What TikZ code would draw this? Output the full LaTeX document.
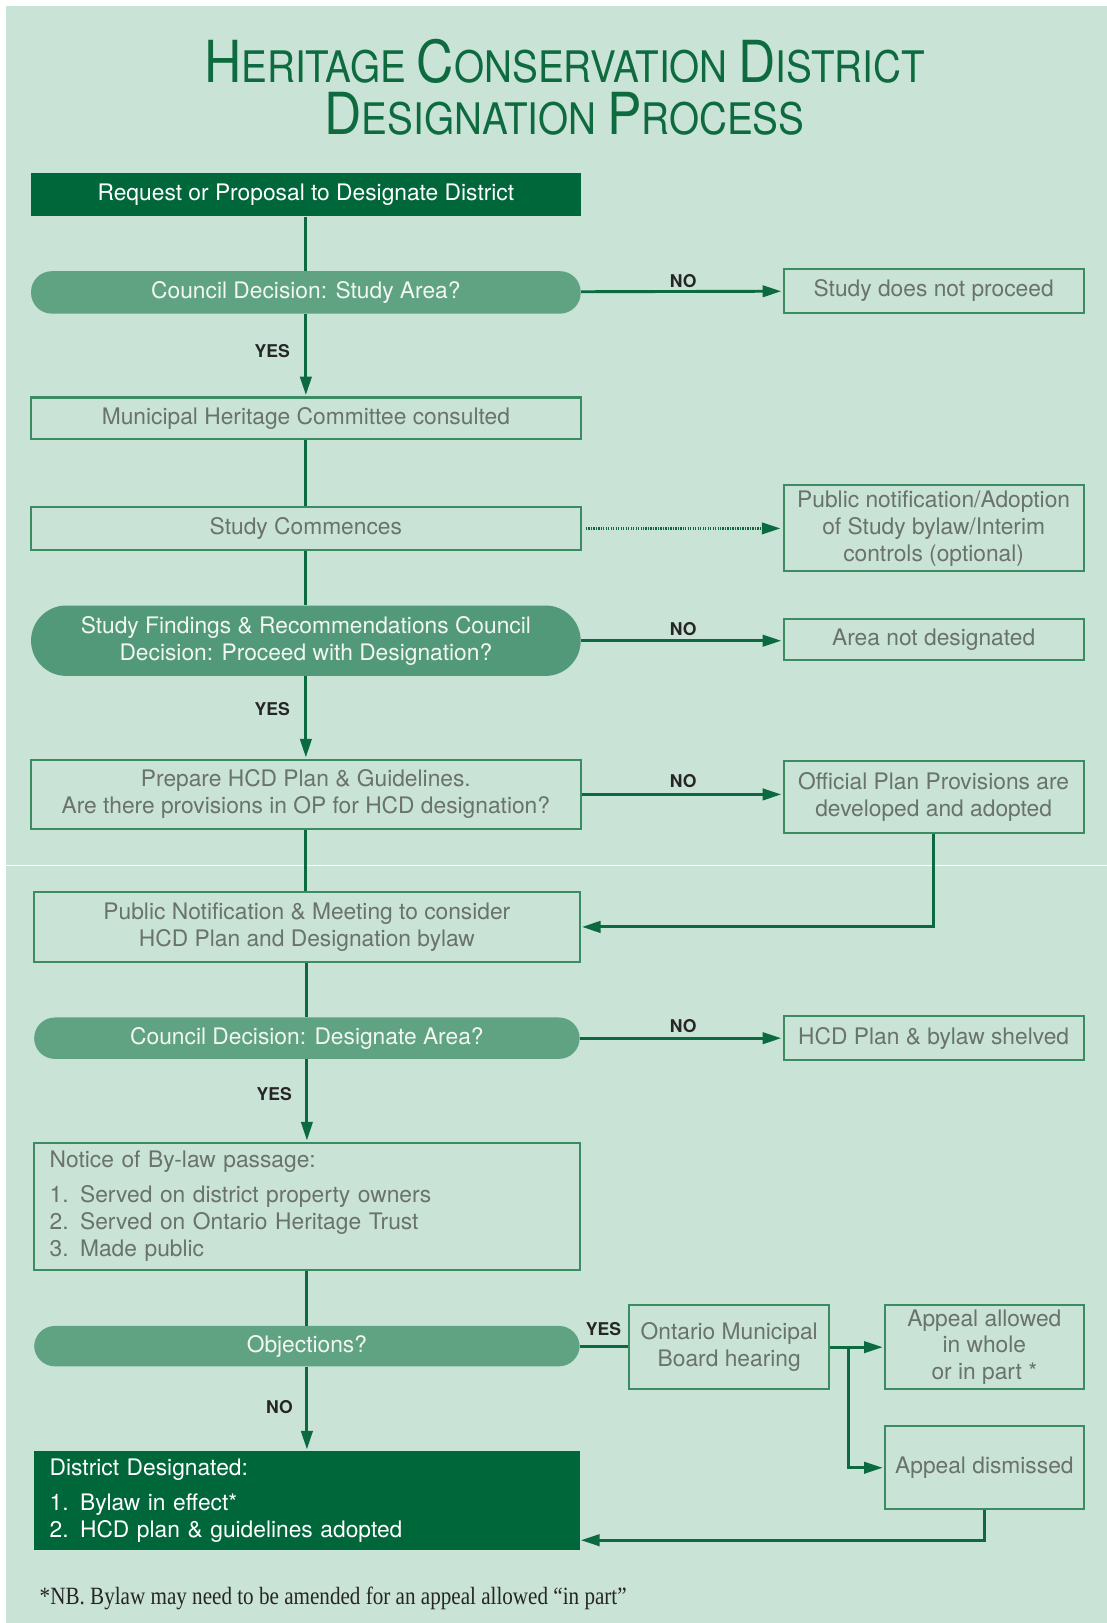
\documentclass[tikz,border=0pt]{standalone}
\usepackage{fontspec}
\setmainfont{TeX Gyre Heros}
\newfontfamily\titlefont{TeX Gyre Heros}[FakeStretch=0.89]
\newfontfamily\notefont{Liberation Serif}[FakeStretch=0.85]
\usetikzlibrary{arrows.meta}
\definecolor{bg}{HTML}{C9E3D6}
\definecolor{dkgreen}{HTML}{00673A}
\definecolor{titlegreen}{HTML}{0E6B3F}
\definecolor{pillA}{HTML}{5FA383}
\definecolor{pillB}{HTML}{52997A}
\definecolor{outl}{HTML}{3B8C62}
\definecolor{lc}{HTML}{0B6A40}
\definecolor{gtext}{HTML}{6A726D}
\definecolor{pilltext}{HTML}{F2F7F2}
\newcommand\HcdBig[1]{{\fontsize{28}{30}\selectfont #1}}
\newcommand\HcdSmall[1]{{\fontsize{21}{23}\selectfont #1}}
\tikzset{
  basefont/.style={font=\fontsize{11}{13}\selectfont},
  box/.style={basefont, draw=outl, line width=1pt, text=gtext, align=center, inner sep=2pt},
  darkbox/.style={basefont, fill=dkgreen, text=white, align=center, inner sep=2pt},
  pill/.style={basefont, fill=pillA, text=pilltext, align=center, rounded corners=10pt, inner sep=2pt},
  arr/.style={draw=lc, line width=1.4pt, -{Triangle[length=9pt,width=5.5pt]}, shorten >=0.6pt},
  dotarr/.style={draw=lc, line width=1.3pt, dash pattern=on 0.6pt off 0.6pt, -{Triangle[length=9pt,width=5.5pt]}, shorten >=1pt, shorten <=2pt},
  lnk/.style={draw=lc, line width=1.4pt},
  lbl/.style={font=\bfseries\fontsize{8.5}{10}\selectfont, text=black!85, inner sep=0pt},
  titlestyle/.style={font=\titlefont\fontsize{21}{23}\selectfont, text=titlegreen, inner sep=0pt, anchor=base}
}
\begin{document}
\begin{tikzpicture}[x=0.5pt,y=-0.5pt]
\useasboundingbox (0,0) rectangle (1069,1568);
\fill[white] (0,0) rectangle (1069,1568);
\fill[bg] (6,6) rectangle (1069,1568);
\fill[white] (0,835.5) rectangle (1069,837);

% title
\node[titlestyle] (t1) at (545.5,80) {\HcdBig{H}\HcdSmall{ERITAGE} \HcdBig{C}\HcdSmall{ONSERVATION} \HcdBig{D}\HcdSmall{ISTRICT}};
\node[titlestyle] (t2) at (545.5,130) {\HcdBig{D}\HcdSmall{ESIGNATION} \HcdBig{P}\HcdSmall{ROCESS}};

% main column
\node[darkbox, minimum width=265.5pt, minimum height=21pt] (req) at (295.5,188) {Request or Proposal to Designate District};
\node[pill, minimum width=265.5pt, minimum height=20.5pt] (cd1) at (295.5,282.5) {Council Decision: Study Area?};
\node[box, minimum width=145pt, minimum height=21pt] (sdnp) at (902,281) {Study does not proceed};
\node[box, minimum width=265.5pt, minimum height=20pt] (mhc) at (295.5,404) {Municipal Heritage Committee consulted};
\node[box, minimum width=265.5pt, minimum height=20.5pt] (sc) at (295.5,510.5) {Study Commences};
\node[box, minimum width=145pt, minimum height=41.5pt] (pub) at (902,510.5) {Public notification/Adoption\\of Study bylaw/Interim\\controls (optional)};
\node[pill, fill=pillB, rounded corners=17pt, minimum width=265.5pt, minimum height=34pt] (sf) at (295.5,619) {Study Findings \& Recommendations Council\\Decision: Proceed with Designation?};
\node[box, minimum width=145pt, minimum height=20pt] (notdes) at (902,618) {Area not designated};
\node[box, minimum width=265.5pt, minimum height=33.5pt] (prep) at (295.5,767.5) {Prepare HCD Plan \& Guidelines.\\Are there provisions in OP for HCD designation?};
\node[box, minimum width=145pt, minimum height=35pt] (opp) at (902,770) {Official Plan Provisions are\\developed and adopted};
\node[box, minimum width=263.5pt, minimum height=33.5pt] (pn) at (296.5,895.5) {Public Notification \& Meeting to consider\\HCD Plan and Designation bylaw};
\node[pill, minimum width=263.5pt, minimum height=20pt] (cd2) at (296.5,1003) {Council Decision: Designate Area?};
\node[box, minimum width=145pt, minimum height=21pt] (shelved) at (902,1003) {HCD Plan \& bylaw shelved};
\node[box, align=left, text width=248.5pt, inner xsep=7.5pt, minimum height=61.5pt] (notice) at (296.5,1165.5) {Notice of By-law passage:\\[4pt]1. Served on district property owners\\2. Served on Ontario Heritage Trust\\3. Made public};
\node[pill, minimum width=263.5pt, minimum height=19.5pt] (obj) at (296.5,1300.5) {Objections?};
\node[box, minimum width=96.5pt, minimum height=40.5pt] (omb) at (704.5,1301.5) {Ontario Municipal\\Board hearing};
\node[box, minimum width=96pt, minimum height=40.5pt] (allowed) at (951,1301.5) {Appeal allowed\\in whole\\or in part *};
\node[box, minimum width=96pt, minimum height=40pt] (dismissed) at (951,1418) {Appeal dismissed};
\node[darkbox, align=left, text width=248.5pt, inner xsep=7.5pt, minimum height=47.5pt] (dd) at (296.5,1449.5) {District Designated:\\[4pt]1. Bylaw in effect*\\2. HCD plan \& guidelines adopted};

\node[anchor=base west, inner sep=0pt, text=black!85, font=\notefont\fontsize{12}{14}\selectfont] (fn) at (38,1550) {*NB. Bylaw may need to be amended for an appeal allowed “in part”};

% connectors
\draw[lnk] (req) -- (cd1);
\draw[arr] (cd1) -- (sdnp);
\draw[arr] (cd1) -- (mhc);
\draw[lnk] (mhc) -- (sc);
\draw[dotarr] (sc) -- (pub);
\draw[lnk] (sc) -- (sf);
\draw[arr] (sf.east) -- (sf.east -| notdes.west);
\draw[arr] (sf) -- (prep);
\draw[arr] (prep.east) -- (prep.east -| opp.west);
\draw[lnk] (prep.south) -- (prep.south |- pn.north);
\draw[arr] (opp.south) |- (pn.east);
\draw[lnk] (pn) -- (cd2);
\draw[arr] (cd2) -- (shelved);
\draw[arr] (cd2) -- (notice);
\draw[lnk] (notice) -- (obj);
\draw[lnk] (obj.east) -- (obj.east -| omb.west);
\coordinate (jn) at (820,1301.5);
\draw[lnk] (omb.east) -- (jn);
\draw[arr] (jn) -- (allowed.west);
\draw[arr] (jn) |- (dismissed.west);
\coordinate (ddin) at (560,1488);
\draw[arr] (dismissed.south) |- (ddin);
\draw[arr] (obj) -- (dd);

% labels
\node[lbl] (n1) at (660,272) {NO};
\node[lbl] (y1) at (263,339) {YES};
\node[lbl] (n2) at (660,608) {NO};
\node[lbl] (y2) at (263,685) {YES};
\node[lbl] (n3) at (660,755) {NO};
\node[lbl] (n4) at (660,991) {NO};
\node[lbl] (y3) at (265,1057) {YES};
\node[lbl] (y4) at (583,1284) {YES};
\node[lbl] (n5) at (270,1359) {NO};
\end{tikzpicture}
\end{document}
